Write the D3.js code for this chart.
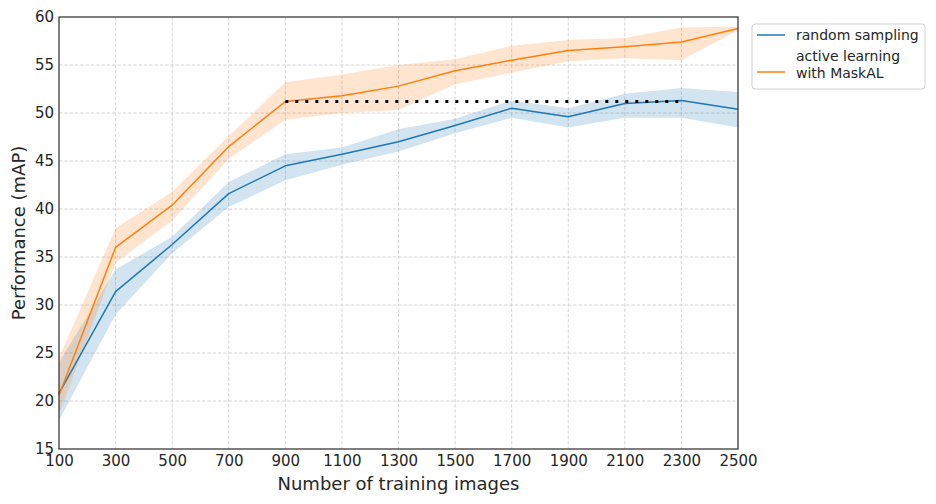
<!DOCTYPE html>
<html>
<head>
<meta charset="utf-8">
<script src="https://cdn.jsdelivr.net/npm/d3@7"></script>
<style>
  body { margin: 0; background: #fff; }
  text { font-family: "DejaVu Sans", sans-serif; fill: #262626; }
</style>
</head>
<body>
<svg id="chart"></svg>
<script>
// training set sizes
const images = [100, 300, 500, 700, 900, 1100, 1300, 1500, 1700, 1900, 2100, 2300, 2500];

// random sampling: mean and band
const randomMean = [20.8, 31.4, 36.3, 41.6, 44.5, 45.7, 47.0, 48.7, 50.5, 49.6, 51.0, 51.3, 50.4];
const randomLow  = [18.0, 29.0, 35.4, 40.2, 43.0, 44.6, 46.0, 47.9, 49.5, 48.5, 49.5, 49.5, 48.5];
const randomHigh = [24.0, 33.7, 37.1, 42.8, 45.7, 46.4, 48.3, 49.4, 51.3, 50.5, 52.0, 52.6, 52.2];

// active learning with MaskAL: mean and band
const activeMean = [20.6, 36.0, 40.4, 46.5, 51.2, 51.8, 52.8, 54.4, 55.5, 56.5, 56.9, 57.4, 58.8];
const activeLow  = [18.6, 34.4, 38.8, 45.2, 49.3, 50.0, 50.3, 53.0, 54.2, 55.4, 55.7, 55.5, 58.6];
const activeHigh = [24.5, 38.0, 41.8, 47.6, 53.2, 54.0, 55.0, 55.6, 57.0, 57.6, 57.8, 58.9, 59.0];

// reference level: MaskAL at 900 images, up to 2300
const refLevel = 51.2;
const refFrom = 900, refTo = 2300;

const xTicks = [100, 300, 500, 700, 900, 1100, 1300, 1500, 1700, 1900, 2100, 2300, 2500];
const yTicks = [15, 20, 25, 30, 35, 40, 45, 50, 55, 60];

const W = 936, H = 504;
const margin = { top: 17, right: 198, bottom: 55, left: 59 },
  width = W - margin.left - margin.right,
  height = H - margin.top - margin.bottom;

const svg = d3.select('#chart')
  .attr('width', W)
  .attr('height', H);

const g = svg.append('g')
  .attr('transform', `translate(${margin.left},${margin.top})`);

const x = d3.scaleLinear().domain([100, 2500]).range([0, width]);
const y = d3.scaleLinear().domain([15, 60]).range([height, 0]);

// grid
g.append('g')
  .selectAll('line')
  .data(xTicks.slice(1, -1))
  .join('line')
  .attr('x1', d => x(d)).attr('x2', d => x(d))
  .attr('y1', 0).attr('y2', height)
  .attr('stroke', '#cccccc').attr('stroke-width', 0.8)
  .attr('stroke-dasharray', '3.5,1.8');

g.append('g')
  .selectAll('line')
  .data(yTicks.slice(1, -1))
  .join('line')
  .attr('x1', 0).attr('x2', width)
  .attr('y1', d => y(d)).attr('y2', d => y(d))
  .attr('stroke', '#cccccc').attr('stroke-width', 0.8)
  .attr('stroke-dasharray', '3.5,1.8');

const series = [
  { name: 'random', mean: randomMean, low: randomLow, high: randomHigh, color: '#1f77b4' },
  { name: 'active', mean: activeMean, low: activeLow, high: activeHigh, color: '#ff7f0e' }
];

const area = d3.area()
  .x((d, i) => x(images[i]))
  .y0(d => y(d[0]))
  .y1(d => y(d[1]));

const line = d3.line()
  .x((d, i) => x(images[i]))
  .y(d => y(d));

series.forEach(s => {
  g.append('path')
    .datum(s.low.map((v, i) => [v, s.high[i]]))
    .attr('fill', s.color)
    .attr('fill-opacity', 0.2)
    .attr('d', area);
});

series.forEach(s => {
  g.append('path')
    .datum(s.mean)
    .attr('fill', 'none')
    .attr('stroke', s.color)
    .attr('stroke-width', 1.5)
    .attr('stroke-linejoin', 'round')
    .attr('d', line);
});

// dotted reference line
g.append('line')
  .attr('x1', x(refFrom)).attr('x2', x(refTo))
  .attr('y1', y(refLevel)).attr('y2', y(refLevel))
  .attr('stroke', '#000')
  .attr('stroke-width', 3)
  .attr('stroke-dasharray', '3,7');

// spines
g.append('rect')
  .attr('width', width).attr('height', height)
  .attr('fill', 'none')
  .attr('stroke', '#333333')
  .attr('stroke-width', 1.25);

// axes
const xAxis = g.append('g')
  .attr('transform', `translate(0,${height})`)
  .call(d3.axisBottom(x).tickValues(xTicks).tickFormat(d3.format('d')).tickSize(0).tickPadding(6));
const yAxis = g.append('g')
  .call(d3.axisLeft(y).tickValues(yTicks).tickSize(0).tickPadding(5));
[xAxis, yAxis].forEach(a => {
  a.select('.domain').remove();
  a.selectAll('text')
    .style('font-family', '"DejaVu Sans", sans-serif')
    .style('font-size', '15px')
    .attr('fill', '#262626');
});

// axis labels
svg.append('text')
  .attr('x', margin.left + width / 2)
  .attr('y', 490)
  .attr('text-anchor', 'middle')
  .style('font-size', '18px')
  .text('Number of training images');

svg.append('text')
  .attr('transform', `translate(25,${margin.top + height / 2}) rotate(-90)`)
  .attr('text-anchor', 'middle')
  .style('font-size', '18px')
  .text('Performance (mAP)');

// legend
const lg = svg.append('g').attr('transform', 'translate(752,24)');
lg.append('rect')
  .attr('width', 173).attr('height', 65)
  .attr('rx', 3)
  .attr('fill', '#fff')
  .attr('stroke', '#d0d0d0');

const legendItems = [
  { lines: ['random sampling'], color: '#1f77b4', ly: 11, ty: [16] },
  { lines: ['active learning', 'with MaskAL'], color: '#ff7f0e', ly: 48, ty: [37, 54] }
];
legendItems.forEach(it => {
  lg.append('line')
    .attr('x1', 5).attr('x2', 33)
    .attr('y1', it.ly).attr('y2', it.ly)
    .attr('stroke', it.color)
    .attr('stroke-width', 1.5);
  it.lines.forEach((t, i) => {
    lg.append('text')
      .attr('x', 44).attr('y', it.ty[i])
      .style('font-size', '14px')
      .text(t);
  });
});
</script>
</body>
</html>
